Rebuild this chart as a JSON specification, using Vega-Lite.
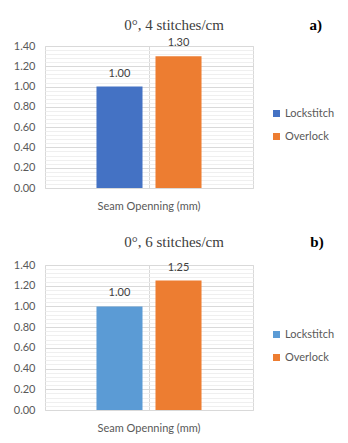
{
  "$schema": "https://vega.github.io/schema/vega-lite/v6.json",
  "padding": {"left": 12, "top": 17, "right": 0, "bottom": 0},
  "spacing": 22,
  "background": "white",
  "config": {
    "view": {"stroke": "#d9d9d9", "strokeWidth": 1},
    "font": "Lato",
    "title": {"offset": 0},
    "concat": {"spacing": 0}
  },
  "resolve": {"scale": {"color": "independent"}},
  "vconcat": [
    {
      "title": {"text": "a)", "orient": "right", "anchor": "start", "angle": 0, "align": "left", "baseline": "top", "frame": "bounds", "font": "Liberation Serif", "fontWeight": "bold", "fontSize": 15, "color": "#000000", "offset": -38},
      "vconcat": [
        {
          "title": {"text": "0°, 4 stitches/cm", "anchor": "middle", "frame": "group", "font": "Liberation Serif", "fontWeight": "normal", "fontSize": 15, "color": "#404040", "offset": 4, "dx": 25},
          "width": 208,
          "height": 142,
          "data": {"values": [
            {"group": "Seam Openning (mm)", "machine": "Lockstitch", "value": 1.00},
            {"group": "Seam Openning (mm)", "machine": "Overlock", "value": 1.30}
          ]},
          "encoding": {
            "x": {"field": "group", "type": "nominal", "scale": {"paddingInner": 0, "paddingOuter": 0.49},
                  "axis": {"title": null, "labelAngle": 0, "ticks": false, "domain": false, "grid": true, "gridColor": "#d9d9d9", "bandPosition": 0.5, "labelPadding": 12, "labelFont": "Lato", "labelFontSize": 11, "labelColor": "#595959"}},
            "xOffset": {"field": "machine", "type": "nominal", "scale": {"paddingInner": 0.22, "paddingOuter": 0}},
            "y": {"field": "value", "type": "quantitative", "scale": {"domain": [0, 1.4], "nice": false}}
          },
          "layer": [
            {
              "mark": {"type": "bar"},
              "encoding": {
                "y": {"field": "value", "type": "quantitative", "scale": {"domain": [0, 1.4], "nice": false},
                      "axis": {"orient": "right", "title": null, "labels": false, "ticks": false, "domain": false, "grid": true, "gridColor": "#efefef",
                               "values": [0.04, 0.08, 0.12, 0.16, 0.24, 0.28, 0.32, 0.36, 0.44, 0.48, 0.52, 0.56, 0.64, 0.68, 0.72, 0.76, 0.84, 0.88, 0.92, 0.96, 1.04, 1.08, 1.12, 1.16, 1.24, 1.28, 1.32, 1.36]}},
                "color": {"field": "machine", "type": "nominal", "title": null,
                          "scale": {"domain": ["Lockstitch", "Overlock"], "range": ["#4472C4", "#ED7D31"]},
                          "legend": {"orient": "none", "legendX": 226, "legendY": 62, "symbolType": "square", "symbolSize": 49, "symbolStrokeWidth": 0, "labelFont": "Lato", "labelFontSize": 11, "labelColor": "#595959", "rowPadding": 11, "labelOffset": 3}}
              }
            },
            {
              "mark": {"type": "text", "baseline": "middle", "dy": -13, "font": "Lato", "fontSize": 11, "color": "#404040"},
              "encoding": {
                "text": {"field": "value", "type": "quantitative", "format": ".2f"},
                "y": {"field": "value", "type": "quantitative", "scale": {"domain": [0, 1.4], "nice": false},
                      "axis": {"title": null, "values": [0, 0.2, 0.4, 0.6, 0.8, 1.0, 1.2, 1.4], "format": ".2f", "domain": false, "ticks": false, "labelPadding": 10, "labelFont": "Lato", "labelFontSize": 11, "labelColor": "#595959", "grid": true, "gridColor": "#d9d9d9"}}
              }
            }
          ],
          "resolve": {"axis": {"y": "independent"}}
        }
      ]
    },
    {
      "title": {"text": "b)", "orient": "right", "anchor": "start", "angle": 0, "align": "left", "baseline": "top", "frame": "bounds", "font": "Liberation Serif", "fontWeight": "bold", "fontSize": 15, "color": "#000000", "offset": -38},
      "vconcat": [
        {
          "title": {"text": "0°, 6 stitches/cm", "anchor": "middle", "frame": "group", "font": "Liberation Serif", "fontWeight": "normal", "fontSize": 15, "color": "#404040", "offset": 9, "dx": 25},
          "width": 208,
          "height": 145,
          "data": {"values": [
            {"group": "Seam Openning (mm)", "machine": "Lockstitch", "value": 1.00},
            {"group": "Seam Openning (mm)", "machine": "Overlock", "value": 1.25}
          ]},
          "encoding": {
            "x": {"field": "group", "type": "nominal", "scale": {"paddingInner": 0, "paddingOuter": 0.49},
                  "axis": {"title": null, "labelAngle": 0, "ticks": false, "domain": false, "grid": true, "gridColor": "#d9d9d9", "bandPosition": 0.5, "labelPadding": 12, "labelFont": "Lato", "labelFontSize": 11, "labelColor": "#595959"}},
            "xOffset": {"field": "machine", "type": "nominal", "scale": {"paddingInner": 0.22, "paddingOuter": 0}},
            "y": {"field": "value", "type": "quantitative", "scale": {"domain": [0, 1.4], "nice": false}}
          },
          "layer": [
            {
              "mark": {"type": "bar"},
              "encoding": {
                "y": {"field": "value", "type": "quantitative", "scale": {"domain": [0, 1.4], "nice": false},
                      "axis": {"orient": "right", "title": null, "labels": false, "ticks": false, "domain": false, "grid": true, "gridColor": "#efefef",
                               "values": [0.04, 0.08, 0.12, 0.16, 0.24, 0.28, 0.32, 0.36, 0.44, 0.48, 0.52, 0.56, 0.64, 0.68, 0.72, 0.76, 0.84, 0.88, 0.92, 0.96, 1.04, 1.08, 1.12, 1.16, 1.24, 1.28, 1.32, 1.36]}},
                "color": {"field": "machine", "type": "nominal", "title": null,
                          "scale": {"domain": ["Lockstitch", "Overlock"], "range": ["#5B9BD5", "#ED7D31"]},
                          "legend": {"orient": "none", "legendX": 226, "legendY": 64, "symbolType": "square", "symbolSize": 49, "symbolStrokeWidth": 0, "labelFont": "Lato", "labelFontSize": 11, "labelColor": "#595959", "rowPadding": 11, "labelOffset": 3}}
              }
            },
            {
              "mark": {"type": "text", "baseline": "middle", "dy": -13, "font": "Lato", "fontSize": 11, "color": "#404040"},
              "encoding": {
                "text": {"field": "value", "type": "quantitative", "format": ".2f"},
                "y": {"field": "value", "type": "quantitative", "scale": {"domain": [0, 1.4], "nice": false},
                      "axis": {"title": null, "values": [0, 0.2, 0.4, 0.6, 0.8, 1.0, 1.2, 1.4], "format": ".2f", "domain": false, "ticks": false, "labelPadding": 10, "labelFont": "Lato", "labelFontSize": 11, "labelColor": "#595959", "grid": true, "gridColor": "#d9d9d9"}}
              }
            }
          ],
          "resolve": {"axis": {"y": "independent"}}
        }
      ]
    }
  ]
}
